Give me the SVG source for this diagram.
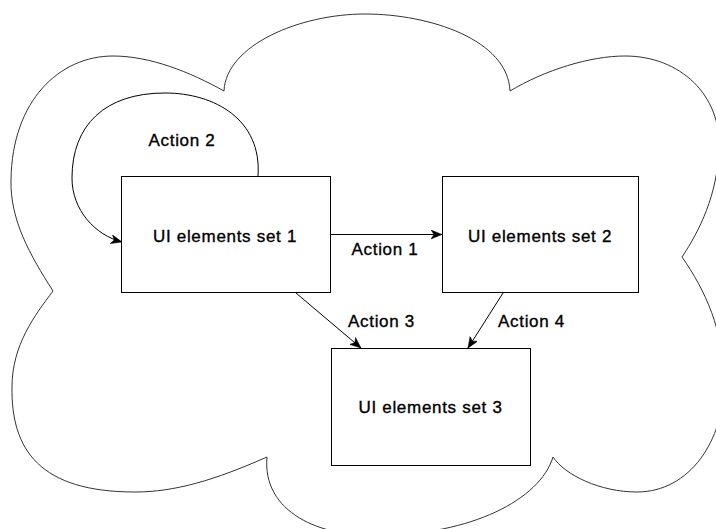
<svg xmlns="http://www.w3.org/2000/svg" width="716" height="529" viewBox="0 0 716 529">
  <style>
    .shape { fill: #ffffff; stroke: #000000; stroke-width: 1; }
    .cloud { fill: #ffffff; stroke: #333333; stroke-width: 1; }
    .edge { fill: none; stroke: #000000; stroke-width: 1; }
    .label { font-family: "Liberation Sans", Arial, sans-serif; font-size: 17px; letter-spacing: 0.7px; fill: #000000; stroke: #000000; stroke-width: 0.35px; text-anchor: middle; }
  </style>
  <defs>
    <marker id="arrow" markerUnits="userSpaceOnUse" markerWidth="12" markerHeight="10" refX="11" refY="4.5" orient="auto">
      <path d="M0,0 L11,4.5 L0,9 L3,4.5 Z" fill="#000000" stroke="#000000" stroke-width="0.5"/>
    </marker>
  </defs>
  <rect x="0" y="0" width="716" height="529" fill="#ffffff"/>
  <g id="cloud">
    <path class="cloud" d="M224,91 C226,45 300,14 365,14 C430,14 508,40 510,91 C545,70 590,56 625,56 C680,56 722,95 719,150 C717,195 700,230 682,257 C705,290 724,330 724,383 C724,440 690,492 637,492 C600,492 565,475 553,457 C540,500 470,535 380,535 C320,538 262,512 267,457 C215,480 175,492 135,492 C40,492 11,450 12,387 C12,345 35,315 53,291 C30,255 10,220 11,180 C12,100 60,56 113,56 C150,56 190,72 224,91 Z"/>
  </g>
  <g id="node1">
    <rect class="shape" x="121.5" y="176.5" width="209" height="116"/>
    <text class="label" x="225" y="242">UI elements set 1</text>
  </g>
  <g id="node2">
    <rect class="shape" x="442.5" y="176.5" width="196" height="116"/>
    <text class="label" x="540" y="242">UI elements set 2</text>
  </g>
  <g id="node3">
    <rect class="shape" x="331.5" y="348.5" width="199" height="117"/>
    <text class="label" x="430.5" y="413">UI elements set 3</text>
  </g>
  <g id="connectors">
    <path class="edge" d="M331,234.5 L442,234.5" marker-end="url(#arrow)"/>
    <path class="edge" d="M258,176 C262,120 215,93 165,93 C105,93 72,125 72,178 C72,210 95,235 122,242" marker-end="url(#arrow)"/>
    <path class="edge" d="M296,293 L361,348" marker-end="url(#arrow)"/>
    <path class="edge" d="M503,293 L468,348" marker-end="url(#arrow)"/>
    <text class="label" x="385" y="255">Action 1</text>
    <text class="label" x="182" y="146">Action 2</text>
    <text class="label" x="381.5" y="327">Action 3</text>
    <text class="label" x="531.5" y="327">Action 4</text>
  </g>
</svg>
